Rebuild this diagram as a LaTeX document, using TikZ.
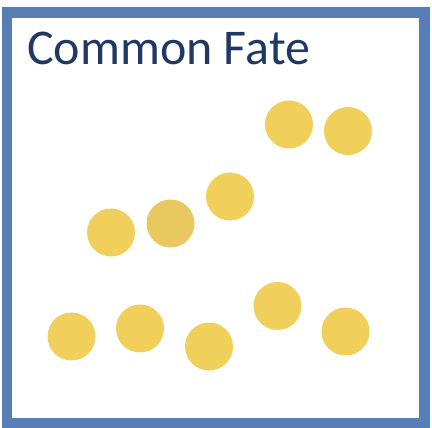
\documentclass[tikz,border=0pt]{standalone}
\usepackage{fontspec}
\setmainfont{Carlito}
\definecolor{framebl}{HTML}{5680B5}
\definecolor{titlebl}{HTML}{203864}
\definecolor{dotyel}{HTML}{F0D05A}
\definecolor{dotdark}{HTML}{EAC860}
\tikzset{
  dot/.style={circle, fill=dotyel, draw=none, minimum size=48pt, inner sep=0pt},
}

\begin{document}
\begin{tikzpicture}[x=1pt, y=-1pt]
\useasboundingbox (0,0) rectangle (432,428);
\draw[framebl, line width=10.5pt] (7,12.5) rectangle (424.5,423);
\node[inner sep=0pt, anchor=base west, text=titlebl, font=\fontsize{50}{60}\selectfont] (title) at (27,65) {Common Fate};
% moving together
\node[dot] (u1) at (289,124.5) {};
\node[dot] (u2) at (348,131) {};
\node[dot] (m1) at (111,232.5) {};
\node[dot, fill=dotdark] (m2) at (170.5,223.5) {};
\node[dot] (m3) at (230,196.5) {};
% bottom row
\node[dot] (b1) at (71.5,336.5) {};
\node[dot] (b2) at (140,328.5) {};
\node[dot] (b3) at (209,346.5) {};
\node[dot] (b4) at (277.5,306) {};
\node[dot] (b5) at (345.5,331.5) {};
\end{tikzpicture}
\end{document}
